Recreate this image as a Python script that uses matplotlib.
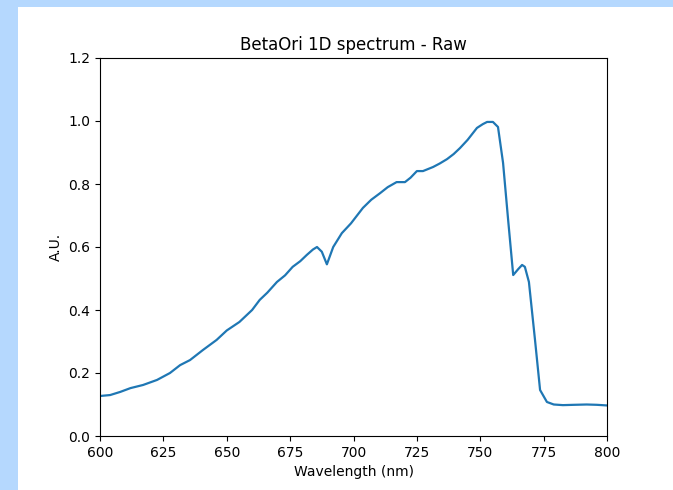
import matplotlib
matplotlib.use("Agg")
import matplotlib.pyplot as plt
from matplotlib.patches import Rectangle

# spectrum
wavelength = [600, 604, 608, 612, 617, 622.5, 627.6, 631.6, 635.5, 640.6, 646,
              650, 655, 660, 663, 666, 669.8, 673, 676, 679, 681.6, 684, 685.6,
              687.5, 689.5, 692, 695.4, 699, 703.7, 707, 710.5, 713.5, 717,
              720.3, 722.5, 725, 727.4, 731.4, 734, 736.9, 739.5, 742, 745,
              748.7, 751, 752.7, 755, 757, 759, 761, 763, 765, 766.5, 767.6,
              769.2, 771.6, 773.6, 776.3, 779, 782.6, 787, 792, 796, 800]
intensity = [0.127, 0.130, 0.140, 0.152, 0.162, 0.178, 0.200, 0.225, 0.241,
             0.273, 0.305, 0.335, 0.362, 0.400, 0.432, 0.455, 0.489, 0.510,
             0.537, 0.555, 0.575, 0.592, 0.600, 0.585, 0.545, 0.600, 0.644,
             0.675, 0.724, 0.750, 0.771, 0.790, 0.806, 0.806, 0.820, 0.841,
             0.841, 0.854, 0.865, 0.879, 0.895, 0.914, 0.940, 0.978, 0.990,
             0.997, 0.997, 0.981, 0.867, 0.686, 0.511, 0.530, 0.543, 0.537,
             0.489, 0.305, 0.146, 0.108, 0.100, 0.098, 0.099, 0.100, 0.099,
             0.097]

fig = plt.figure(figsize=(6.73, 4.90), dpi=100, facecolor="#b5d8fe")
# white page inside the light-blue screenshot border (top and left)
fig.patches.append(Rectangle((18 / 673, 0), 1, 483 / 490, transform=fig.transFigure,
                             facecolor="white", edgecolor="none", zorder=-1))
ax = fig.add_axes([100 / 673, 54 / 490, 507 / 673, 378 / 490], zorder=1)
ax.plot(wavelength, intensity, color="#1f77b4", lw=1.6)
ax.set_xlim(600, 800)
ax.set_ylim(0, 1.2)
ax.set_title("BetaOri 1D spectrum - Raw")
ax.set_xlabel("Wavelength (nm)")
ax.set_ylabel("A.U.")
fig.savefig("out.png", dpi=100, facecolor=fig.get_facecolor())
